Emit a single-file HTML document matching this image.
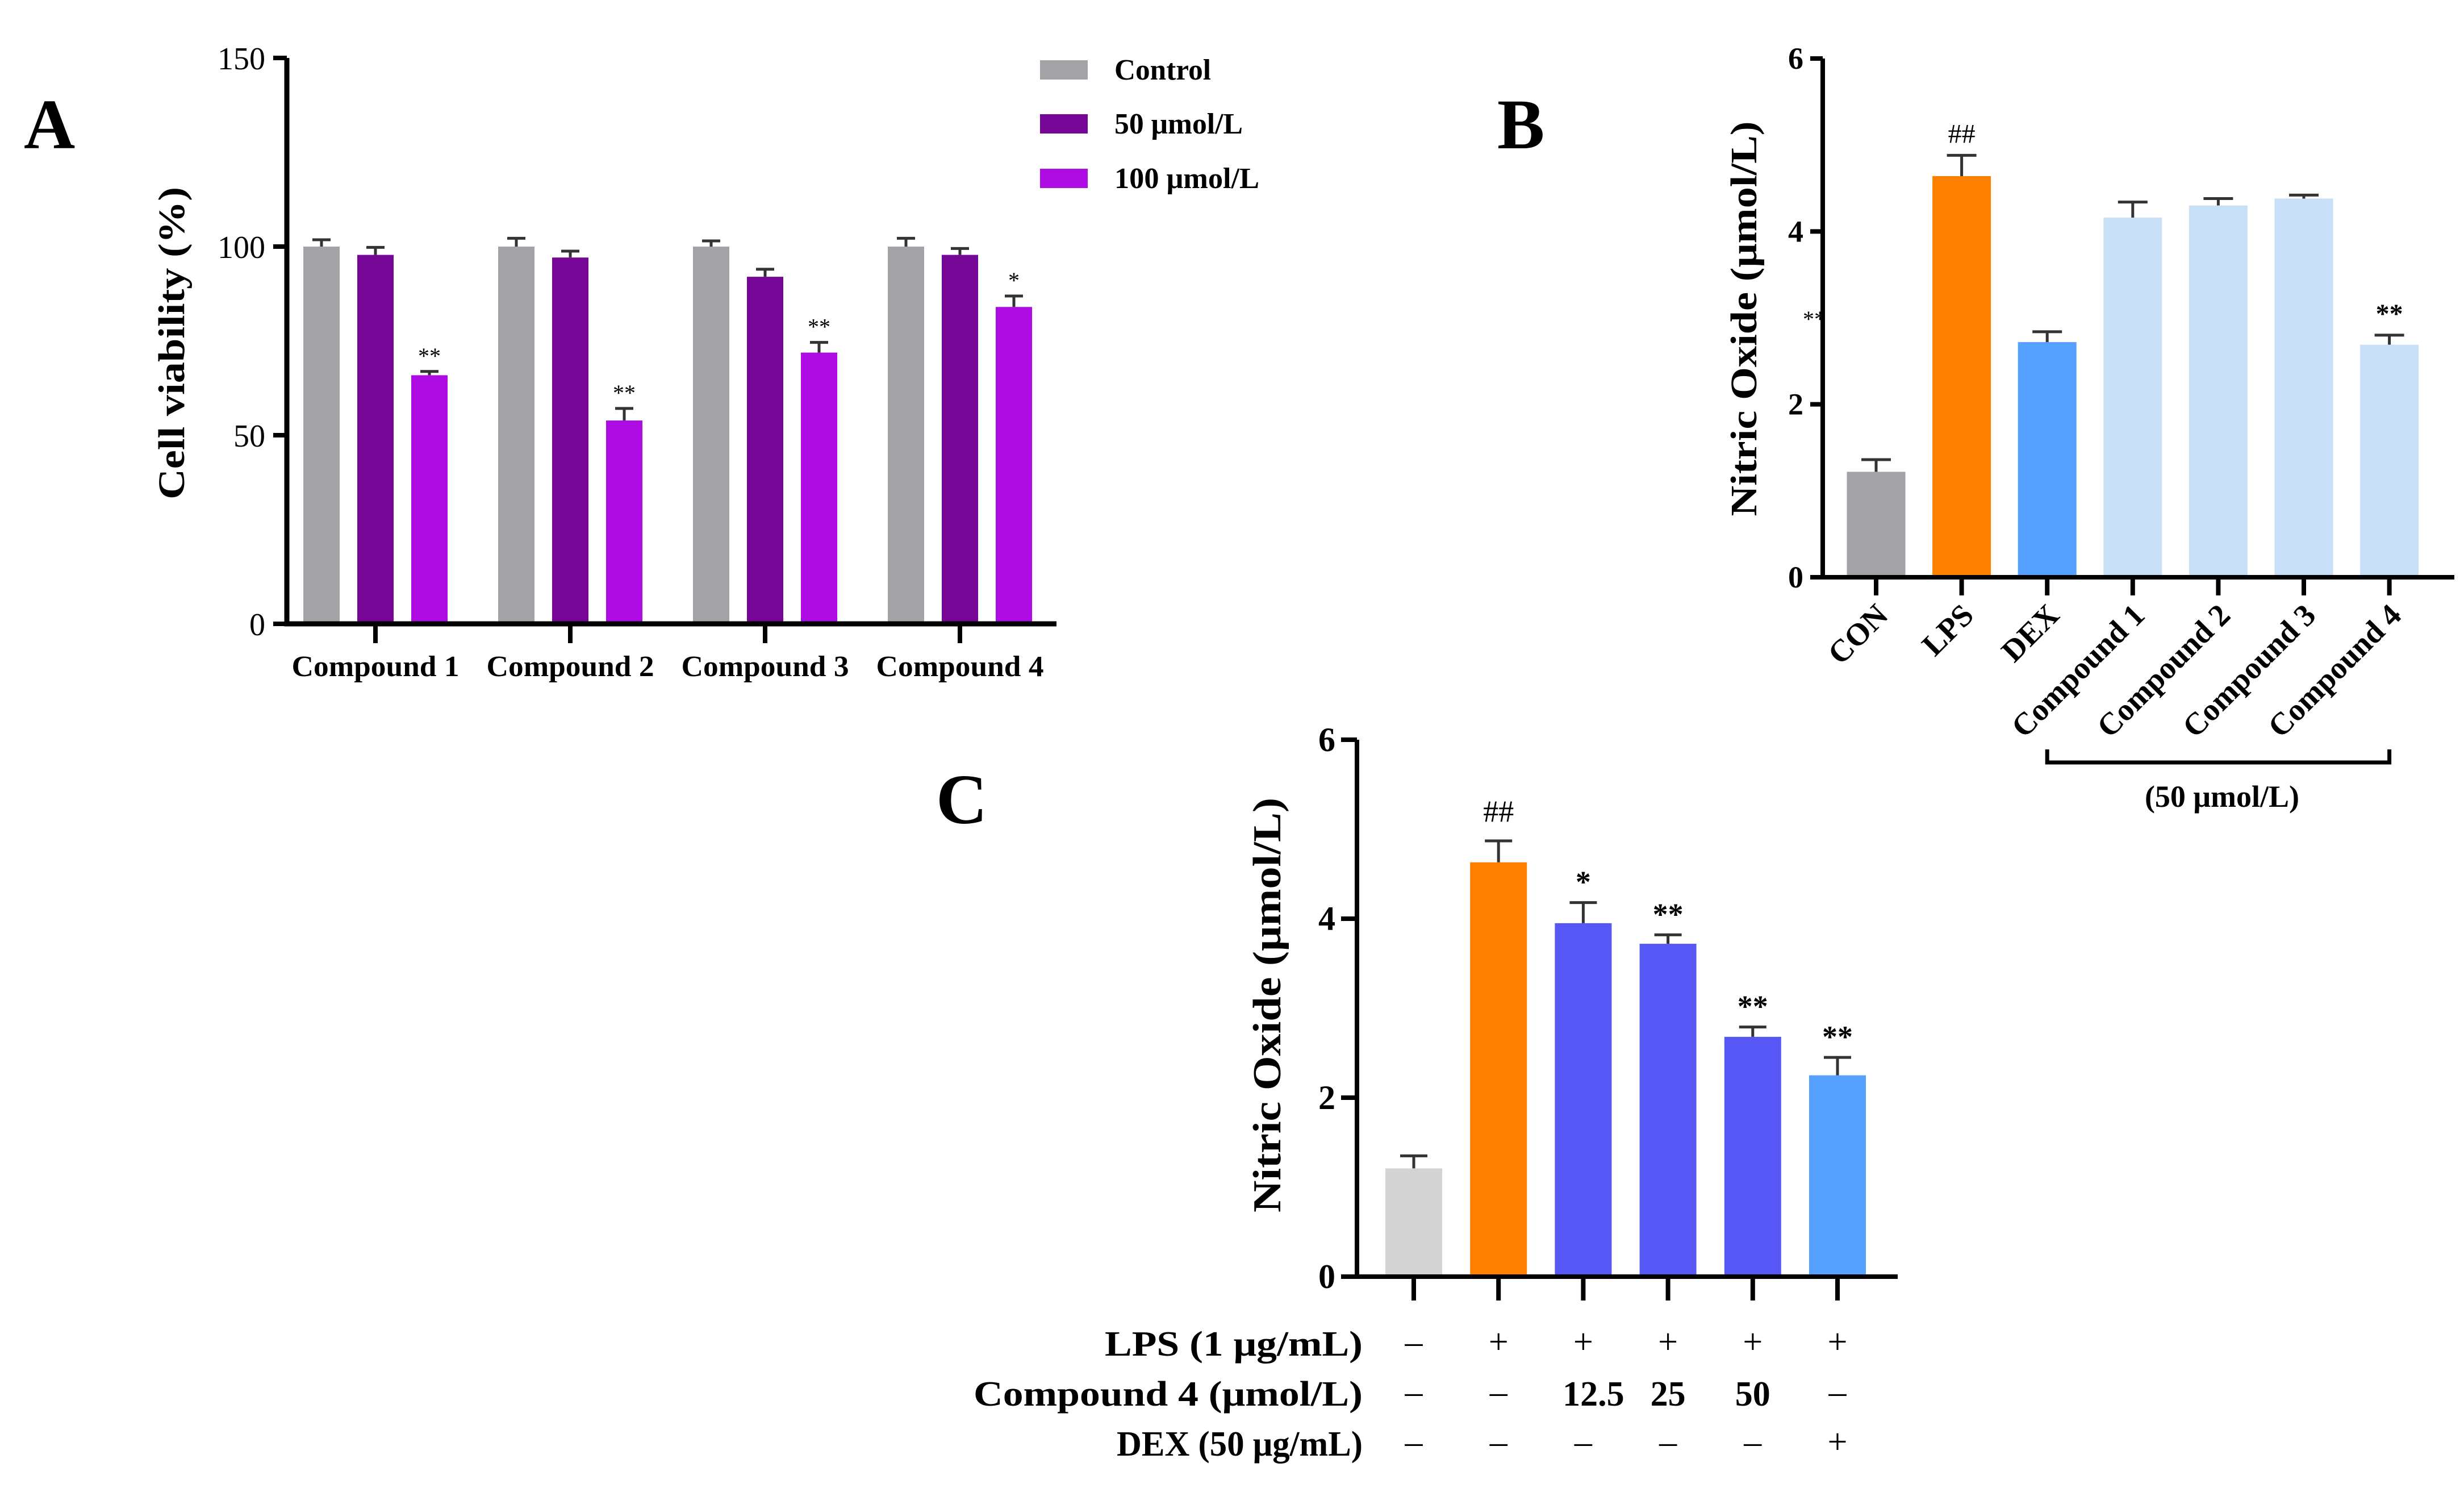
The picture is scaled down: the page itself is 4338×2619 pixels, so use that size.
<!DOCTYPE html>
<html><head><meta charset="utf-8"><style>
html,body{margin:0;padding:0;background:#fff;}
svg{display:block;font-family:"Liberation Serif","DejaVu Serif",serif;font-weight:bold;}
</style></head><body>
<svg id="fig" xmlns="http://www.w3.org/2000/svg" width="4338" height="2619" viewBox="0 0 4338 2619">
<rect width="4338" height="2619" fill="#fff"/>
<g id="pa"></g>
<g id="pb"></g>
<g id="pc"></g>
</svg>
<script>
// Panel A data
const aCategories = ["Compound 1","Compound 2","Compound 3","Compound 4"];
const aSeries = ["Control","50 μmol/L","100 μmol/L"];
const aControl = [100,100,100,100];
const aControlErr = [1.8,2.2,1.5,2.2];
const a50 = [97.8,97.1,92.0,97.8];
const a50Err = [2.0,1.7,2.0,1.7];
const a100 = [65.9,53.9,71.9,84.0];
const a100Err = [1.0,3.2,2.7,2.9];
const a100Marks = ["**","**","**","*"];
const aTicks = [0,50,100,150];
// Panel B data
const bCategories = ["CON","LPS","DEX","Compound 1","Compound 2","Compound 3","Compound 4"];
const bValues = [1.22,4.64,2.72,4.16,4.30,4.38,2.69];
const bErr = [0.14,0.24,0.12,0.18,0.08,0.04,0.11];
const bMarks = ["","##","","","","","**"];
const bTicks = [0,2,4,6];
// Panel C data
const cValues = [1.21,4.63,3.95,3.72,2.68,2.25];
const cErr = [0.14,0.24,0.23,0.10,0.11,0.20];
const cMarks = ["","##","*","**","**","**"];
const cTicks = [0,2,4,6];
const cRowLabels = ["LPS (1 μg/mL)","Compound 4 (μmol/L)","DEX (50 μg/mL)"];
const cRowLPS = ["–","+","+","+","+","+"];
const cRowCmp = ["–","–","12.5","25","50","–"];
const cRowDEX = ["–","–","–","–","–","+"];

const NS="http://www.w3.org/2000/svg";
function mk(parent,tag,attrs,text){const e=document.createElementNS(NS,tag);for(const k in attrs)e.setAttribute(k,attrs[k]);if(text!==undefined)e.textContent=text;parent.appendChild(e);return e;}

// ---------- Panel A ----------
(function(){
const g=document.getElementById('pa');
const x0=505,y0=1098,yTop=102,xEnd=1860,max=150;
const ys=v=>y0-(v/max)*(y0-yTop);
const gc=i=>661+i*343;
const bw=64, step=95;
const cols=["#a3a2a6","#760796","#ad0ce3"];
const sets=[[aControl,aControlErr],[a50,a50Err],[a100,a100Err]];
aCategories.forEach((c,i)=>{
  sets.forEach((s,j)=>{
    const cx=gc(i)+(j-1)*step, v=s[0][i], e=s[1][i];
    const r=mk(g,'rect',{x:cx-bw/2,y:ys(v),width:bw,height:y0-ys(v),fill:cols[j]});
    
    
    const eb=mk(g,'path',{d:`M${cx} ${ys(v)}V${ys(v+e)}M${cx-16} ${ys(v+e)}H${cx+16}`,stroke:'#333',"stroke-width":5,fill:'none'});
    
    
  });
  const cx=gc(i)+step;
  const m=mk(g,'text',{x:cx,y:ys(a100[i]+a100Err[i])-14,"text-anchor":"middle","font-size":40,"font-weight":"normal"},a100Marks[i]);
  
  
  const tk=mk(g,'line',{x1:gc(i),x2:gc(i),y1:y0,y2:y0+34,stroke:'#000',"stroke-width":8});
  
  
  const t=mk(g,'text',{x:gc(i),y:1190,"text-anchor":"middle","font-size":52,textLength:295,lengthAdjust:"spacingAndGlyphs"},c);
  
  
});
const ax=mk(g,'path',{d:`M${x0} ${yTop}V${y0}H${xEnd}`,stroke:'#000',"stroke-width":9,fill:'none'});


aTicks.forEach(v=>{
  const l=mk(g,'line',{x1:x0-24,x2:x0,y1:ys(v),y2:ys(v),stroke:'#000',"stroke-width":8});
  
  
  const t=mk(g,'text',{x:x0-38,y:ys(v)+20,"text-anchor":"end","font-size":56,"font-weight":"normal"},String(v));
  
  
});
const yt=mk(g,'text',{x:0,y:0,transform:"translate(324,604) rotate(-90)","text-anchor":"middle","font-size":66,textLength:550,lengthAdjust:"spacingAndGlyphs"},"Cell viability (%)");


const L=mk(g,'text',{x:42,y:261,"font-size":125},"A");


const lb=[140,235,331], lw=[170,226,255];
aSeries.forEach((s,j)=>{
  const r=mk(g,'rect',{x:1831,y:lb[j]-34,width:84,height:34,fill:cols[j]});
  
  
  const t=mk(g,'text',{x:1962,y:lb[j],"font-size":52,textLength:lw[j],lengthAdjust:"spacingAndGlyphs"},s);
  
  
});
})();

// ---------- Panel B ----------
(function(){
const g=document.getElementById('pb');
const x0=3209,y0=1016,yTop=103,xEnd=4321,max=6;
const ys=v=>y0-(v/max)*(y0-yTop);
const xc=i=>3303+i*150.6;
const bw=103;
const cols=["#a3a2a6","#ff7f00","#56a1ff","#c9def7","#c9def7","#c9def7","#c9def7"];
bCategories.forEach((c,i)=>{
  const v=bValues[i],e=bErr[i],cx=xc(i);
  const r=mk(g,'rect',{x:cx-bw/2,y:ys(v),width:bw,height:y0-ys(v),fill:cols[i]});
  
  
  const eb=mk(g,'path',{d:`M${cx} ${ys(v)}V${ys(v+e)}M${cx-26} ${ys(v+e)}H${cx+26}`,stroke:'#333',"stroke-width":5,fill:'none'});
  
  
  if(bMarks[i]){
    const m=mk(g,'text',{x:cx,y:ys(v+e)-22,"text-anchor":"middle","font-size":48,"font-weight":bMarks[i]==="##"?"normal":"bold"},bMarks[i]);
    
    
  }
  const tk=mk(g,'line',{x1:cx,x2:cx,y1:y0,y2:y0+32,stroke:'#000',"stroke-width":8});
  
  
  const t=mk(g,'text',{x:0,y:0,transform:`translate(${cx+24},${y0+70}) rotate(-45)`,"text-anchor":"end","font-size":55},c);
  
  
});
const ax=mk(g,'path',{d:`M${x0} ${yTop}V${y0}H${xEnd}`,stroke:'#000',"stroke-width":8,fill:'none'});


bTicks.forEach(v=>{
  const l=mk(g,'line',{x1:x0-22,x2:x0,y1:ys(v),y2:ys(v),stroke:'#000',"stroke-width":8});
  
  
  const t=mk(g,'text',{x:x0-34,y:ys(v)+18,"text-anchor":"end","font-size":54},String(v));
  
  
});
const st=mk(g,'text',{x:3194,y:575,"text-anchor":"middle","font-size":40,"font-weight":"normal"},"**");


const yt=mk(g,'text',{x:0,y:0,transform:"translate(3092,561) rotate(-90)","text-anchor":"middle","font-size":66,textLength:695,lengthAdjust:"spacingAndGlyphs"},"Nitric Oxide (μmol/L)");


const br=mk(g,'path',{d:`M${xc(2)} 1319V1342H${xc(6)}V1319`,stroke:'#000',"stroke-width":7,fill:'none'});


const bt=mk(g,'text',{x:3912,y:1420,"text-anchor":"middle","font-size":54},"(50 μmol/L)");


const L=mk(g,'text',{x:2636,y:261,"font-size":125},"B");


})();

// ---------- Panel C ----------
(function(){
const g=document.getElementById('pc');
const x0=2389,y0=2247,yTop=1302,xEnd=3341,max=6;
const ys=v=>y0-(v/max)*(y0-yTop);
const xc=i=>2489+i*149.2;
const bw=100;
const cols=["#d3d3d3","#ff7f00","#5757f5","#5757f5","#5757f5","#56a1ff"];
cValues.forEach((v,i)=>{
  const e=cErr[i],cx=xc(i);
  const r=mk(g,'rect',{x:cx-bw/2,y:ys(v),width:bw,height:y0-ys(v),fill:cols[i]});
  
  
  const eb=mk(g,'path',{d:`M${cx} ${ys(v)}V${ys(v+e)}M${cx-24} ${ys(v+e)}H${cx+24}`,stroke:'#333',"stroke-width":5,fill:'none'});
  
  
  if(cMarks[i]){
    const m=mk(g,'text',{x:cx,y:ys(v+e)-(cMarks[i]==="##"?34:18),"text-anchor":"middle","font-size":54,"font-weight":cMarks[i]==="##"?"normal":"bold"},cMarks[i]);
    
    
  }
  const tk=mk(g,'line',{x1:cx,x2:cx,y1:y0,y2:y0+42,stroke:'#000',"stroke-width":8});
  
  
});
const ax=mk(g,'path',{d:`M${x0} ${yTop}V${y0}H${xEnd}`,stroke:'#000',"stroke-width":8,fill:'none'});


cTicks.forEach(v=>{
  const l=mk(g,'line',{x1:x0-28,x2:x0,y1:ys(v),y2:ys(v),stroke:'#000',"stroke-width":8});
  
  
  const t=mk(g,'text',{x:x0-38,y:ys(v)+20,"text-anchor":"end","font-size":60},String(v));
  
  
});
const yt=mk(g,'text',{x:0,y:0,transform:"translate(2254,1769) rotate(-90)","text-anchor":"middle","font-size":70,textLength:730,lengthAdjust:"spacingAndGlyphs"},"Nitric Oxide (μmol/L)");


const rowsY=[2386,2474,2562], rowW=[454,685,433];
const rows=[cRowLPS,cRowCmp,cRowDEX];
cRowLabels.forEach((lab,r)=>{
  const t=mk(g,'text',{x:2399,y:rowsY[r],"text-anchor":"end","font-size":62,textLength:rowW[r],lengthAdjust:"spacingAndGlyphs"},lab);
  
  
  rows[r].forEach((s,i)=>{
    const c=mk(g,'text',{x:xc(i)+(s==="12.5"?18:0),y:rowsY[r]-(s.length>1?0:4),"text-anchor":"middle","font-size":62,"font-weight":(s==="+"||s==="–")?"normal":"bold"},s);
    
    
  });
});
const L=mk(g,'text',{x:1648,y:1449,"font-size":125},"C");


})();
</script>
</body></html>
